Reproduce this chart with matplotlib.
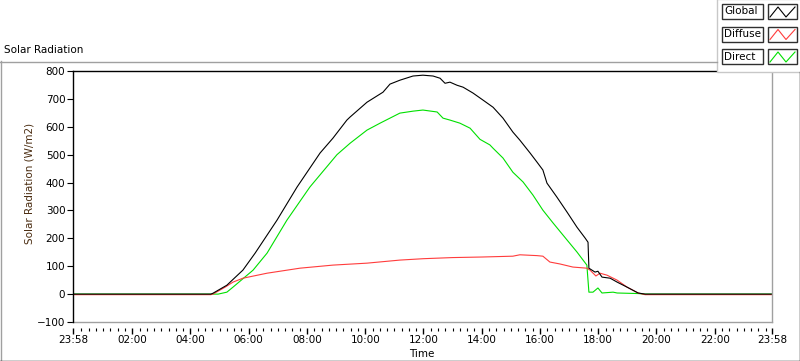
import numpy as np
import matplotlib
matplotlib.use('Agg')
import matplotlib.pyplot as plt
from matplotlib.patches import Rectangle

plt.rcParams['font.family'] = ['DejaVu Sans']
plt.rcParams['font.size'] = 7.5

# time in hours from midnight (23:58 of previous day = -2 min)
t_global = [-0.033, 4.70, 4.77, 5.25, 5.80, 6.22, 6.97, 7.66, 8.45, 8.89, 9.37, 9.48,
            10.06, 10.61, 10.85, 11.19, 11.64, 11.98, 12.33, 12.57, 12.74, 12.91, 13.15,
            13.36, 13.70, 14.04, 14.39, 14.73, 15.07, 15.31, 15.66, 15.90, 16.10, 16.24,
            16.58, 16.93, 17.27, 17.55, 17.65, 17.68, 17.89, 17.99, 18.13, 18.41, 18.65,
            18.99, 19.37, 19.61, 23.967]
v_global = [0, 0, 3, 32, 86, 147, 265, 384, 506, 559, 624, 635,
            688, 724, 753, 767, 782, 785, 782, 774, 756, 760, 749,
            742, 721, 696, 670, 631, 581, 552, 506, 473, 445, 398,
            348, 294, 240, 201, 186, 93, 79, 82, 61, 57, 43,
            25, 4, 0, 0]

t_diffuse = [-0.033, 4.70, 4.77, 5.19, 5.46, 5.80, 6.63, 7.76, 8.89, 10.06, 11.19, 12.0,
             13.0, 14.0, 15.07, 15.31, 15.90, 16.10, 16.34, 16.69, 17.13, 17.61, 17.72,
             17.92, 18.06, 18.30, 18.65, 18.99, 19.37, 19.61, 23.967]
v_diffuse = [-2, -2, 0, 25, 43, 57, 75, 93, 104, 111, 122, 127,
             131, 133, 136, 141, 138, 136, 115, 108, 97, 93, 86,
             65, 75, 68, 50, 25, 4, -2, -2]

t_direct = [-0.033, 4.95, 5.25, 5.46, 6.15, 6.63, 7.31, 8.10, 9.03, 9.48, 10.06, 10.51,
            10.85, 11.19, 11.64, 11.98, 12.47, 12.67, 12.91, 13.25, 13.60, 13.94, 14.28,
            14.39, 14.73, 15.07, 15.42, 15.76, 16.10, 16.45, 16.93, 17.27, 17.61, 17.68,
            17.82, 17.99, 18.13, 18.51, 18.65, 19.37, 19.61, 23.967]
v_direct = [0, 0, 7, 25, 86, 147, 265, 384, 500, 541, 588, 613,
            631, 649, 656, 660, 653, 631, 624, 613, 595, 555, 535,
            523, 488, 437, 402, 355, 301, 255, 194, 151, 104, 7,
            7, 22, 4, 7, 4, 2, 0, 0]

x_ticks = [-2 / 60] + list(range(2, 23, 2)) + [24 - 2 / 60]
x_labels = ['23:58'] + ['%02d:00' % h for h in range(2, 23, 2)] + ['23:58']
x_minor = [m for m in np.arange(0.25, 24, 0.25) if m % 2 != 0]
y_ticks = list(range(-100, 801, 100))

W, H = 800, 361
fig = plt.figure(figsize=(W / 100, H / 100), dpi=100)
fig.patch.set_facecolor('white')

ax = fig.add_axes([73 / W, 1 - 322 / H, (772 - 73) / W, (322 - 71) / H])
ax.plot(t_direct, v_direct, color='#00e000', lw=0.8)
ax.plot(t_diffuse, v_diffuse, color='#ff3c3c', lw=0.8)
ax.plot(t_global, v_global, color='black', lw=0.8)
ax.set_xlim(x_ticks[0], x_ticks[-1])
ax.set_ylim(-100, 800)

grey = '#a0a0a0'
ax.spines['left'].set_color('black')
ax.spines['top'].set_color('black')
ax.spines['right'].set_color(grey)
ax.spines['bottom'].set_visible(False)
ax.spines['bottom'].set_position(('outward', 4))
ax.plot([0, 1], [0, 0], transform=ax.transAxes, color=grey, lw=1, clip_on=False)
for s in ax.spines.values():
    s.set_linewidth(1)

ax.set_yticks(y_ticks)
ax.tick_params(axis='y', length=4, width=0.8, pad=1.5, labelsize=7.5)
ax.set_xticks(x_ticks, x_labels)
ax.set_xticks(x_minor, minor=True)
ax.tick_params(axis='x', which='major', length=4, width=1, pad=1.5, labelsize=7.5)
ax.tick_params(axis='x', which='minor', length=2.2, width=0.8)

# overlay in pixel coordinates for frame, labels and legend
ov = fig.add_axes([0, 0, 1, 1])
ov.set_xlim(0, W)
ov.set_ylim(H, 0)
ov.axis('off')
ov.set_zorder(5)

ov.plot([0, 717], [61.5, 61.5], color=grey, lw=1)
ov.plot([0.5, 0.5], [61, H], color=grey, lw=1)
ov.plot([0, W], [360.5, 360.5], color='black', lw=1)
ov.plot([799.5, 799.5], [72, H], color='black', lw=1)

ov.text(4, 50, 'Solar Radiation', ha='left', va='center', fontsize=7.5)
ov.text(29, 183, 'Solar Radiation (W/m2)', ha='center', va='center', rotation=90,
        fontsize=7.5, color='#4a2c10')
ov.text(422, 354, 'Time', ha='center', va='center', fontsize=7.5)

# legend
ov.add_patch(Rectangle((717, -1), 84, 73, facecolor='white', edgecolor='#c8c8c8', lw=1))
names = ['Global', 'Diffuse', 'Direct']
colors = ['black', '#ff3c3c', '#00e000']
for i, (nm, c) in enumerate(zip(names, colors)):
    y0 = 4 + i * 22.5
    ov.add_patch(Rectangle((722, y0), 41, 15, facecolor='white', edgecolor='#303030', lw=1))
    ov.add_patch(Rectangle((768, y0), 29, 15, facecolor='white', edgecolor='#303030', lw=1))
    ov.text(724, y0 + 7.5, nm, ha='left', va='center', fontsize=7.5)
    ov.plot([770, 778, 786, 795], [y0 + 13, y0 + 3, y0 + 13, y0 + 3], color=c, lw=0.8)

fig.savefig('out.png', dpi=100)
